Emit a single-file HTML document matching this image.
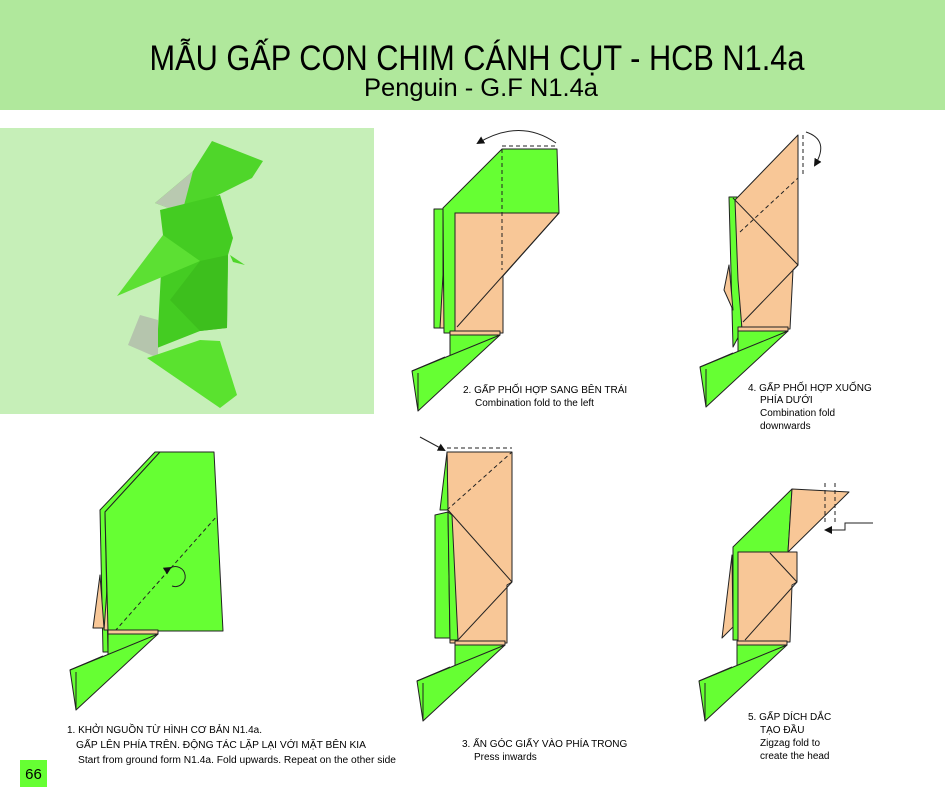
<!DOCTYPE html>
<html><head><meta charset="utf-8"><style>
html,body{margin:0;padding:0;background:#fff;}
svg{display:block;}
text{font-family:"Liberation Sans",Arial,sans-serif;fill:#000;}
.g{fill:#66ff33;stroke:#222;stroke-width:1;stroke-linejoin:round;}
.p{fill:#f8c797;stroke:#222;stroke-width:1;stroke-linejoin:round;}
.l{fill:none;stroke:#222;stroke-width:1;}
.d{fill:none;stroke:#222;stroke-width:1;stroke-dasharray:4,3;}
.lb{font-size:10px;}
</style></head><body>
<svg width="945" height="807" viewBox="0 0 945 807" xmlns="http://www.w3.org/2000/svg">
<defs>
<g id="base">
  <polygon class="p" points="-50,-4 0,-4 0,0 -50,0"/>
  <polygon class="g" points="-50,0 0,0 -50,24"/>
  <polygon class="g" points="0,0 -88,36 -82,76"/>
  <line class="l" x1="-82" y1="38" x2="-82" y2="76"/>
  <line class="l" x1="-88" y1="36" x2="-55" y2="22"/>
</g>
<marker id="ah" markerWidth="8" markerHeight="8" refX="6" refY="4" orient="auto"><path d="M0,0 L8,4 L0,8 z" fill="#111"/></marker>
</defs>

<!-- header -->
<rect x="0" y="0" width="945" height="110" fill="#b0e89c"/>
<text x="477" y="70" font-size="35" text-anchor="middle" textLength="655" lengthAdjust="spacingAndGlyphs">MẪU GẤP CON CHIM CÁNH CỤT - HCB N1.4a</text>
<text x="481" y="96" font-size="25" text-anchor="middle" textLength="234" lengthAdjust="spacingAndGlyphs">Penguin - G.F N1.4a</text>

<!-- photo panel -->
<rect x="0" y="128" width="374" height="286" fill="#c6efb8"/>
<polygon points="155,203 193,171 212,141 263,161 252,178 182,213" fill="#4fd62a"/>
<polygon points="155,203 193,171 182,213" fill="#b9c9b0"/>
<polygon points="160,210 220,195 233,238 228,255 227,328 200,331 157,348 163,235" fill="#44cc22"/>
<polygon points="163,235 200,261 117,296" fill="#5ce033"/>
<polygon points="200,261 228,255 227,328 200,331 170,300" fill="#3dbf1d"/>
<polygon points="128,345 140,315 158,320 158,358" fill="#b5c5ad"/>
<polygon points="147,358 200,340 220,341 237,395 220,408" fill="#5ae22f"/>
<polygon points="230,255 245,265 233,262" fill="#4fd62a"/>

<!-- step 1 -->
<polygon class="g" points="100,510 155,452 160,452 105,512 108,652 103,652"/>
<polygon class="p" points="93,628 100,575 104,628"/>
<polygon class="p" points="104,630 108,576 112,630"/>
<polygon class="g" points="105,512 160,452 214,452 223,631 108,631"/>
<line class="d" x1="115" y1="631" x2="217" y2="516"/>
<path d="M170,568 A10,10 0 1 1 172,586" class="l" marker-start="url(#ah)"/>
<use href="#base" x="158" y="634"/>
<text class="lb" x="67" y="733">1. KHỞI NGUỒN TỪ HÌNH CƠ BẢN N1.4a.</text>
<text class="lb" x="76" y="748" textLength="290" lengthAdjust="spacingAndGlyphs">GẤP LÊN PHÍA TRÊN. ĐỘNG TÁC LẶP LẠI VỚI MẶT BÊN KIA</text>
<text class="lb" x="78" y="763" textLength="318" lengthAdjust="spacingAndGlyphs">Start from ground form N1.4a. Fold upwards. Repeat on the other side</text>

<!-- step 2 -->
<polygon class="g" points="434,209 443,209 443,328 434,328"/>
<polygon class="p" points="440,328 443,275 446,328"/>
<polygon class="g" points="443,208 502,149 557,149 559,213 455,213 455,333 444,333"/>
<polygon class="p" points="455,213 559,213 503,276 503,333 455,333"/>
<line class="l" x1="559" y1="213" x2="457" y2="327"/>
<line class="d" x1="502" y1="149" x2="502" y2="270"/>
<line class="d" x1="502" y1="146" x2="557" y2="146"/>
<path d="M556,143 Q520,118 478,143" class="l" marker-end="url(#ah)"/>
<use href="#base" x="500" y="335"/>
<text class="lb" x="463" y="393">2. GẤP PHỐI HỢP SANG BÊN TRÁI</text>
<text class="lb" x="475" y="406">Combination fold to the left</text>

<!-- step 4 -->
<polygon class="g" points="729,197 737,197 742,330 733,347"/>
<polygon class="p" points="735,200 798,135 798,265 793,270 790,329 742,329 738,280"/>
<polygon class="p" points="724,290 729,265 733,310"/>
<line class="l" x1="733" y1="198" x2="798" y2="265"/>
<line class="l" x1="798" y1="265" x2="743" y2="322"/>
<line class="d" x1="740" y1="232" x2="798" y2="178"/>
<line class="d" x1="803" y1="135" x2="803" y2="177"/>
<path d="M806,132 Q830,140 815,165" class="l" marker-end="url(#ah)"/>
<use href="#base" x="788" y="331"/>
<text class="lb" x="748" y="391">4. GẤP PHỐI HỢP XUỐNG</text>
<text class="lb" x="760" y="403">PHÍA DƯỚI</text>
<text class="lb" x="760" y="416">Combination fold</text>
<text class="lb" x="760" y="429">downwards</text>

<!-- step 3 -->
<polygon class="g" points="435,515 448,512 452,638 435,638"/>
<polygon class="p" points="447,452 512,452 512,582 507,585 507,643 450,643 448,510"/>
<polygon class="g" points="447,452 440,510 448,510"/>
<polygon class="g" points="448,512 452,515 458,640 450,640"/>
<line class="d" x1="447" y1="510" x2="512" y2="452"/>
<line class="l" x1="448" y1="510" x2="512" y2="582"/>
<line class="l" x1="512" y1="582" x2="458" y2="640"/>
<line class="d" x1="447" y1="448" x2="512" y2="448"/>
<line class="l" x1="420" y1="437" x2="444" y2="450" marker-end="url(#ah)"/>
<use href="#base" x="505" y="645"/>
<text class="lb" x="462" y="747">3. ẤN GÓC GIẤY VÀO PHÍA TRONG</text>
<text class="lb" x="474" y="760">Press inwards</text>

<!-- step 5 -->
<polygon class="g" points="733,547 792,489 788,552 738,552 738,640 733,640"/>
<polygon class="p" points="792,489 849,492 788,552"/>
<polygon class="p" points="732,555 733,627 722,638"/>
<polygon class="p" points="738,552 797,552 797,582 792,585 790,642 738,642"/>
<line class="l" x1="770" y1="553" x2="797" y2="582"/>
<line class="l" x1="797" y1="582" x2="745" y2="640"/>
<line class="d" x1="825" y1="483" x2="825" y2="522"/>
<line class="d" x1="835" y1="483" x2="835" y2="522"/>
<polyline class="l" points="873,523 845,523 845,530 826,530" marker-end="url(#ah)"/>
<use href="#base" x="787" y="645"/>
<text class="lb" x="748" y="720">5. GẤP DÍCH DẮC</text>
<text class="lb" x="760" y="733">TẠO ĐẦU</text>
<text class="lb" x="760" y="746">Zigzag fold to</text>
<text class="lb" x="760" y="759">create the head</text>

<!-- page number -->
<rect x="20" y="760" width="27" height="27" fill="#66ff33"/>
<text x="33.5" y="779" font-size="15" text-anchor="middle">66</text>
</svg>
</body></html>
